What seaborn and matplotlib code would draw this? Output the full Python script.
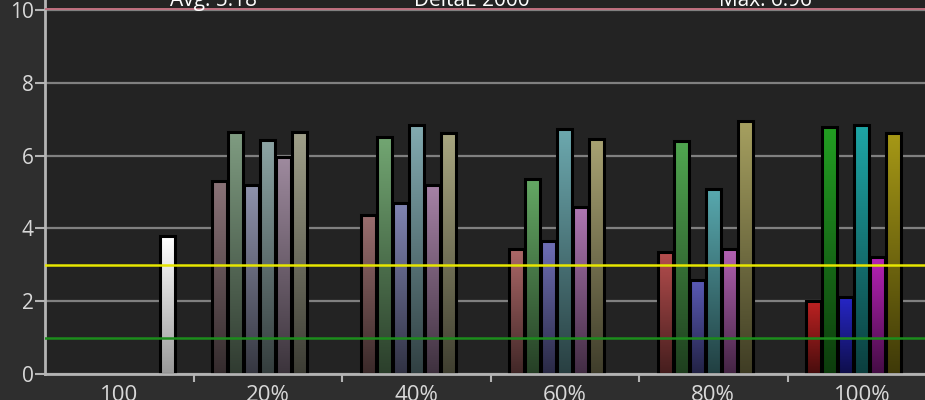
import numpy as np
import pandas as pd
import seaborn as sns
import matplotlib.pyplot as plt
from matplotlib.colors import to_rgb

# ----- Data -----
categories = ['100', '20%', '40%', '60%', '80%', '100%']
channels = ['R', 'G', 'B', 'C', 'M', 'Y', 'W']

white_100 = [3.78]
sat_20 = [5.30, 6.65, 5.19, 6.44, 5.95, 6.65]
sat_40 = [4.37, 6.52, 4.69, 6.84, 5.19, 6.63]
sat_60 = [3.44, 5.36, 3.65, 6.73, 4.58, 6.46]
sat_80 = [3.36, 6.39, 2.59, 5.08, 3.43, 6.96]
sat_100 = [2.01, 6.78, 2.11, 6.84, 3.21, 6.63]

header = ['Avg: 5.18', 'DeltaE 2000', 'Max: 6.96']

# top colour of each bar (R, G, B, C, M, Y), white bar separately
white_col = '#ffffff'
cols_20 = ['#8a7277', '#7f9c81', '#8e92ac', '#8ca4a4', '#9e8a9e', '#a0a08a']
cols_40 = ['#9a6e6e', '#72a672', '#8084b2', '#82aab0', '#a682a6', '#a8a680']
cols_60 = ['#ac6868', '#64a864', '#6e6eb6', '#6ca8ae', '#ae76b2', '#a8a272']
cols_80 = ['#b64e4e', '#50a650', '#5a5ab6', '#58a8ae', '#b260b2', '#a6a060']
cols_100 = ['#be2222', '#229e22', '#2626c6', '#1ea6a6', '#b622b6', '#a69816']

rows = [('100', 'W', white_100[0])]
for cat, vals in zip(categories[1:], [sat_20, sat_40, sat_60, sat_80, sat_100]):
    for ch, v in zip(channels[:6], vals):
        rows.append((cat, ch, v))
df = pd.DataFrame(rows, columns=['stim', 'ch', 'de'])

bar_cols = {'100': {'W': white_col}}
for cat, cl in zip(categories[1:], [cols_20, cols_40, cols_60, cols_80, cols_100]):
    bar_cols[cat] = dict(zip(channels[:6], cl))

# ----- Figure -----
fig = plt.figure(figsize=(9.25, 4), dpi=100)
fig.patch.set_facecolor('#2e2e2e')
ax = fig.add_axes([45 / 925, 26 / 400, 880 / 925, 374 / 400])
ax.set_facecolor('#232323')

sns.barplot(data=df, x='stim', y='de', hue='ch', order=categories,
            hue_order=channels, palette=cols_100 + [white_col],
            width=0.754, gap=0.05, errorbar=None, legend=False,
            edgecolor='black', linewidth=2.2, ax=ax)

# gradient fill inside every bar (bright top, dark bottom)
for i, cont in enumerate(ax.containers):
    ch = channels[i]
    for bar in cont:
        h = bar.get_height()
        if not np.isfinite(h) or h <= 0:
            continue
        x0, w = bar.get_x(), bar.get_width()
        cat = categories[int(round(x0 + w / 2))]
        rgb = np.array(to_rgb(bar_cols[cat][ch]))
        shade = np.linspace(0.38, 1.0, 64)
        if ch == 'W':
            shade = np.linspace(0.6, 1.0, 64)
        grad = shade[:, None, None] * rgb[None, None, :]
        im = ax.imshow(grad, extent=(x0, x0 + w, 0, h), origin='lower',
                       aspect='auto', zorder=1.5, interpolation='bilinear')
        im.set_clip_path(bar)
        bar.set_facecolor('none')
        bar.set_zorder(2)

ax.set_xlim(-0.5, -0.5 + 880 / 148.5)
ax.set_ylim(0, 10.275)

# reference lines
ax.axhline(3, color='#e6e600', lw=1.8, zorder=3)
ax.axhline(1, color='#1c8c1c', lw=1.8, zorder=3)
ax.axhline(10.03, color='#c07080', lw=1.4, zorder=3)

# grid / axes styling
ax.set_axisbelow(True)
ax.yaxis.grid(True, color='#808080', lw=1.6)
ax.xaxis.grid(False)
for s in ['top', 'right']:
    ax.spines[s].set_visible(False)
for s in ['left', 'bottom']:
    ax.spines[s].set_color('#b4b4b4')
    ax.spines[s].set_linewidth(2)

ax.set_yticks([0, 2, 4, 6, 8, 10])
ax.set_xticks(range(len(categories)))
ax.set_xticklabels(categories)
ax.set_xticks([k + 0.5 for k in range(len(categories) - 1)], minor=True)
ax.tick_params(axis='x', which='major', length=0, pad=8, labelsize=16,
               labelcolor='#d8d8d8')
ax.tick_params(axis='x', which='minor', length=6, width=1.5, color='#b4b4b4')
ax.tick_params(axis='y', length=7, width=1.5, color='#b4b4b4', pad=1,
               labelsize=15, labelcolor='#d8d8d8')
for lab in ax.get_xticklabels() + ax.get_yticklabels():
    lab.set_family('Open Sans')
ax.set_xlabel('')
ax.set_ylabel('')

# header texts, cut by the top of the image as in the reference
for txt, xp in zip(header, [213, 472, 765]):
    ax.text((xp - 45) / 148.5 - 0.5, 10.11, txt, ha='center', va='baseline',
            color='white', fontsize=15, family='Open Sans', clip_on=False)

fig.savefig('out.png', dpi=100, facecolor=fig.get_facecolor())
